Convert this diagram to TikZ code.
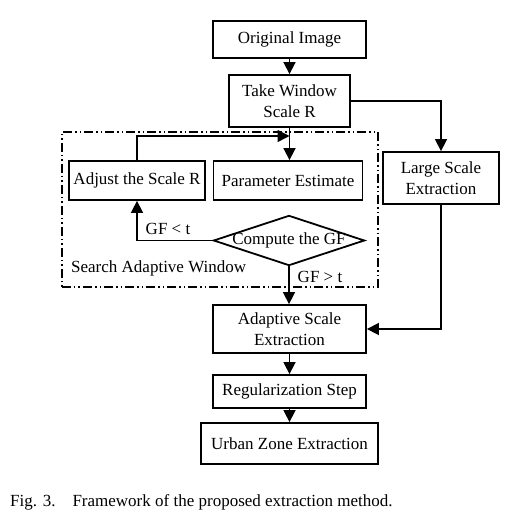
\documentclass[tikz,border=0pt]{standalone}
\usepackage{fontspec}
\setmainfont{Liberation Serif}
\usetikzlibrary{arrows.meta}
\begin{document}
\begin{tikzpicture}[x=1bp,y=-1bp,
  every node/.style={font=\fontsize{17bp}{21bp}\selectfont},
  box/.style={draw, line width=1.8bp, inner sep=0pt, align=center},
  arr/.style={line width=1.6bp, -{Triangle[length=12bp,width=12bp]}},
  framebox/.style={draw, line width=1.6bp, inner sep=0pt,
     dash pattern=on 9bp off 3bp on 1.5bp off 3bp on 1.5bp off 3bp},
  lbl/.style={inner sep=0pt}]
\useasboundingbox (0,0) rectangle (513,521);
\node[framebox, minimum width=316bp, minimum height=155bp] (frame) at (220,209.5) {};
\node[box, minimum width=153bp, minimum height=37bp] (orig) at (289.5,39.5) {Original Image};
\node[box, minimum width=121bp, minimum height=52bp] (take) at (289.5,101) {Take Window\\Scale R};
\node[box, minimum width=136bp, minimum height=39bp] (adjust) at (137,180.5) {Adjust the Scale R};
\node[box, minimum width=149bp, minimum height=39bp] (param) at (288,180.5) {Parameter Estimate};
\node[box, minimum width=116bp, minimum height=52bp] (large) at (441,178) {Large Scale\\Extraction};
\node[inner sep=0pt, minimum width=150bp, minimum height=49bp] (gf) at (289,240.5) {Compute the GF};
\draw[line width=1.8bp] (gf.west) -- (gf.north) -- (gf.east) -- (gf.south) -- cycle;
\node[box, minimum width=153bp, minimum height=48bp] (adapt) at (289.5,329) {Adaptive Scale\\Extraction};
\node[box, minimum width=153bp, minimum height=33bp] (reg) at (289.5,391.5) {Regularization Step};
\node[box, minimum width=177bp, minimum height=41bp] (urban) at (289.5,443.5) {Urban Zone Extraction};
\coordinate (merge) at (289.5,136);
\draw[arr] (orig.south) -- (take.south |- orig.south) -- (take.north);
\draw[arr] (take.south) -- (take.south |- param.north);
\draw[arr] (adjust.north) |- (merge);
\draw[arr] (gf.west) -| (adjust.south);
\draw[arr] (gf.south) -- (gf.south |- adapt.north);
\draw[arr] (take.east) -| (large.north);
\draw[arr] (large.south) |- (adapt.east);
\draw[arr] (adapt.south) -- (reg.north);
\draw[arr] (reg.south) -- (urban.north);
\node[lbl] (lt) at (168,229) {GF < t};
\node[lbl] (gt) at (320,277) {GF > t};
\node[lbl, anchor=west] (saw) at (71,268) {Search Adaptive Window};
\node[lbl, anchor=west] (cap) at (10,502) {Fig. 3.\hspace{17bp}Framework of the proposed extraction method.};
\end{tikzpicture}
\end{document}
